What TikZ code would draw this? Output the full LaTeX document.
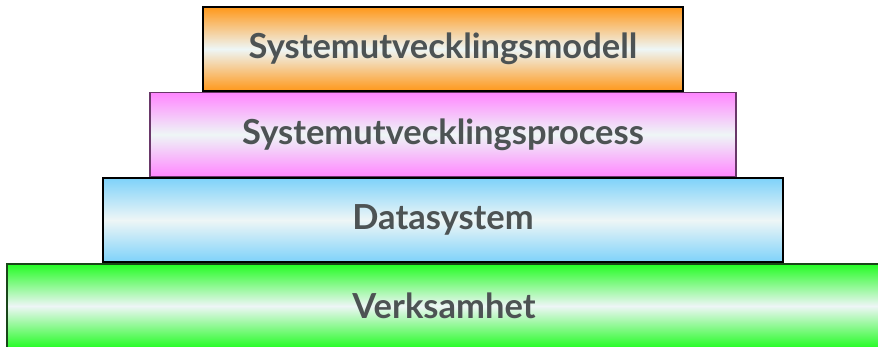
\documentclass[tikz,border=0pt]{standalone}
\usepackage{fontspec}
\setmainfont{Lato}
\definecolor{txt}{RGB}{77,83,84}
\definecolor{midw}{RGB}{238,246,246}
\definecolor{orangec}{RGB}{255,152,26}
\definecolor{pinkc}{RGB}{255,134,255}
\definecolor{bluec}{RGB}{126,210,250}
\definecolor{greenc}{RGB}{36,252,36}
\definecolor{pinkb}{RGB}{105,55,105}
\definecolor{greenb}{RGB}{25,70,25}
\tikzset{
  layer/.style={rectangle, line width=1.3pt, minimum height=84pt, inner sep=0pt,
    middle color=midw, text=txt, font=\fontsize{34.5}{40}\selectfont\bfseries},
}
\begin{document}
\begin{tikzpicture}[x=1pt,y=-1pt]
\useasboundingbox (0,0) rectangle (878,346);
\clip (0,0) rectangle (878,346);
\node[layer, draw=greenb, top color=greenc, bottom color=greenc, middle color=midw, minimum width=874pt] (g) at (444,306) {Verksamhet};
\node[layer, draw=black, top color=bluec, bottom color=bluec, middle color=midw, minimum width=680pt] (b) at (443,220) {Datasystem};
\node[layer, draw=pinkb, top color=pinkc, bottom color=pinkc, middle color=midw, minimum width=586pt] (p) at (443,134.5) {Systemutvecklingsprocess};
\node[layer, draw=black, top color=orangec, bottom color=orangec, middle color=midw, minimum width=480pt] (o) at (443,49) {Systemutvecklingsmodell};
\end{tikzpicture}
\end{document}
